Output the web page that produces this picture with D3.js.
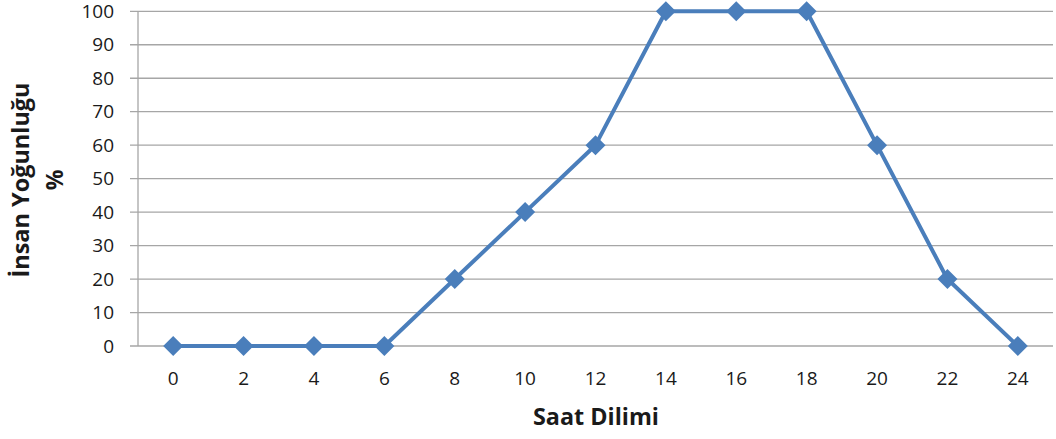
<!DOCTYPE html>
<html>
<head>
<meta charset="utf-8">
<script src="https://cdn.jsdelivr.net/npm/d3@7"></script>
<style>
  html, body { margin: 0; padding: 0; background: #fff; }
  svg { display: block; font-family: "Open Sans", "Liberation Sans", sans-serif; }
</style>
</head>
<body>
<svg id="chart" width="1056" height="439"></svg>
<script>
// Hourly occupancy (%) by time slot
const hours = ["0", "2", "4", "6", "8", "10", "12", "14", "16", "18", "20", "22", "24"];
const density = [0, 0, 0, 0, 20, 40, 60, 100, 100, 100, 60, 20, 0];
const yTicks = [0, 10, 20, 30, 40, 50, 60, 70, 80, 90, 100];

const svg = d3.select("#chart");
const plot = { left: 138, right: 1053, top: 11.3, bottom: 346 };
const lineColor = "#4a7ebb";
const gridColor = "#a6a6a6";
const textColor = "#1a1a1a";
const font = "'Open Sans', 'Liberation Sans', sans-serif";

const x = d3.scaleBand().domain(hours).range([plot.left, plot.right]);
const y = d3.scaleLinear().domain([0, 100]).range([plot.bottom, plot.top]);

// horizontal gridlines (extend left past the axis as tick marks)
svg.append("g")
  .selectAll("line")
  .data(yTicks)
  .join("line")
  .attr("x1", plot.left - 8)
  .attr("x2", plot.right)
  .attr("y1", d => y(d))
  .attr("y2", d => y(d))
  .attr("stroke", gridColor)
  .attr("stroke-width", 1.3);

// y axis line
svg.append("line")
  .attr("x1", plot.left).attr("x2", plot.left)
  .attr("y1", plot.top).attr("y2", plot.bottom)
  .attr("stroke", gridColor).attr("stroke-width", 1.3);

// y tick labels
const yAxis = d3.axisLeft(y).tickValues(yTicks).tickSize(0).tickPadding(0);
const gy = svg.append("g").attr("transform", `translate(${plot.left - 24},0)`).call(yAxis);
gy.select(".domain").remove();
gy.selectAll("text")
  .attr("font-size", 19)
  .attr("fill", textColor)
  .attr("font-family", font);

// x tick labels
const xAxis = d3.axisBottom(x).tickSize(0).tickPadding(0);
const gx = svg.append("g").attr("transform", `translate(0,${plot.bottom + 25})`).call(xAxis);
gx.select(".domain").remove();
gx.selectAll("text")
  .attr("font-size", 19)
  .attr("fill", textColor)
  .attr("font-family", font);

// data line
const cx = d => x(d) + x.bandwidth() / 2;
svg.append("path")
  .datum(density)
  .attr("fill", "none")
  .attr("stroke", lineColor)
  .attr("stroke-width", 4)
  .attr("stroke-linejoin", "round")
  .attr("d", d3.line().x((d, i) => cx(hours[i])).y(d => y(d)));

// diamond markers
svg.append("g")
  .selectAll("path")
  .data(density)
  .join("path")
  .attr("d", d3.symbol(d3.symbolSquare, 200))
  .attr("transform", (d, i) => `translate(${cx(hours[i])},${y(d)}) rotate(45)`)
  .attr("fill", lineColor);

// axis titles
svg.append("text")
  .attr("x", 596).attr("y", 425)
  .attr("text-anchor", "middle")
  .attr("font-size", 23).attr("font-weight", "bold").attr("fill", textColor)
  .attr("textLength", 126).attr("lengthAdjust", "spacingAndGlyphs")
  .text("Saat Dilimi");

const yt = svg.append("text")
  .attr("transform", "translate(0,180) rotate(-90)")
  .attr("text-anchor", "middle")
  .attr("font-size", 23).attr("font-weight", "bold").attr("fill", textColor);
yt.append("tspan").attr("x", 0).attr("y", 29)
  .attr("textLength", 195).attr("lengthAdjust", "spacingAndGlyphs")
  .text("İnsan Yoğunluğu");
yt.append("tspan").attr("x", 0).attr("y", 63).text("%");
</script>
</body>
</html>
